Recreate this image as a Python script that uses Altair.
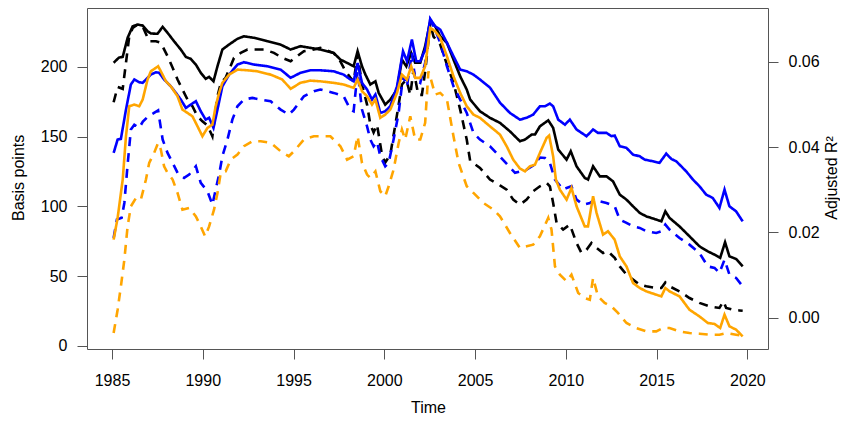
import altair as alt
import pandas as pd

# (year, basis points)
black_solid = [(1985.09,203),(1985.38,206.7),(1985.59,207.2),(1985.86,220.9),(1986.14,229.2),(1986.41,230.4),(1986.69,229.7),(1986.96,225.6),(1987.14,224),(1987.51,223.8),(1987.79,228.8),(1988.06,224.5),(1988.42,218.4),(1988.79,212.5),(1989.07,207.2),(1989.34,205.8),(1989.62,201.7),(1989.89,195.8),(1990.16,191.5),(1990.35,192.9),(1990.59,189.7),(1990.81,200.5),(1991.08,212.5),(1991.45,216.1),(1991.91,220.2),(1992.27,222),(1992.82,220.9),(1993.55,218.5),(1994.29,216),(1994.84,212.5),(1995.38,214.9),(1995.93,213.7),(1996.48,212.5),(1997.21,210.1),(1997.58,205.3),(1997.95,202.9),(1998.31,200.5),(1998.53,211.3),(1998.77,200.5),(1998.96,194.5),(1999.23,187.4),(1999.51,189.7),(1999.69,181.4),(2000.05,173),(2000.33,176.6),(2000.70,183.8),(2000.97,205.3),(2001.21,200.5),(2001.48,210.1),(2001.70,203),(2001.98,203),(2002.25,214.9),(2002.53,232.8),(2002.80,229.2),(2003.08,222),(2003.45,217.3),(2003.81,205.3),(2004.18,193.3),(2004.54,183.8),(2004.73,176.6),(2005.27,168.2),(2005.82,163.5),(2006.37,159.9),(2006.92,153.8),(2007.47,146.7),(2007.75,147.9),(2008.12,151.5),(2008.30,151.5),(2008.57,157.4),(2009.03,161.7),(2009.30,156.3),(2009.58,140.7),(2010.04,133.5),(2010.27,139.5),(2010.59,128.7),(2011.04,120.4),(2011.22,119.2),(2011.50,128.7),(2011.87,121.5),(2012.24,121.5),(2012.60,117.9),(2012.97,108.4),(2013.34,104.8),(2013.70,100),(2014.07,95.3),(2014.43,92.8),(2014.98,90.5),(2015.26,89.2),(2015.48,96.4),(2015.71,91.7),(2016.26,85.6),(2016.81,78.5),(2017.36,71.3),(2017.82,67.7),(2018.19,65.3),(2018.50,63),(2018.77,74.2),(2019.01,64.1),(2019.38,62.2),(2019.74,56.9)]

black_dashed = [(1985.09,174.7),(1985.31,185.7),(1985.59,184.3),(1985.77,203),(1985.95,222),(1986.14,228),(1986.41,230.4),(1986.69,229),(1987.05,218.4),(1987.42,218.4),(1987.69,217.3),(1988.06,207.7),(1988.34,199.4),(1988.61,191),(1988.88,183.8),(1989.16,176.6),(1989.43,171.8),(1989.71,164.6),(1989.98,161),(1990.26,158),(1990.53,150.3),(1990.81,179),(1991.0,188.6),(1991.26,192.2),(1991.45,198.1),(1991.72,206.5),(1992.09,210.1),(1992.46,212.5),(1992.82,212.5),(1993.37,212.5),(1993.92,210.1),(1994.38,206.5),(1994.84,204.1),(1995.20,207.7),(1995.57,211.3),(1996.12,212.5),(1996.48,213.7),(1997.21,210),(1997.58,204),(1997.86,197),(1998.13,192.4),(1998.31,189.5),(1998.53,209),(1998.77,187.4),(1999.05,173),(1999.23,158.6),(1999.41,153),(1999.60,158.6),(1999.87,137),(2000.05,131.4),(2000.33,137),(2000.70,165.8),(2000.97,187.4),(2001.21,191),(2001.43,180),(2001.61,198),(2001.87,180),(2002.07,180),(2002.25,196.7),(2002.53,231),(2002.71,221.8),(2003.08,216),(2003.45,201.7),(2003.81,188.8),(2004.18,169.4),(2004.54,147.9),(2004.73,132.5),(2005.27,127.6),(2005.82,119.2),(2006.37,115),(2006.74,112),(2007.10,104.8),(2007.47,101.2),(2007.84,104.8),(2008.20,110.8),(2008.57,114.4),(2008.94,116.8),(2009.12,114.4),(2009.30,102.4),(2009.49,88.1),(2009.85,83.3),(2010.22,86.9),(2010.59,73.7),(2010.86,66.5),(2011.14,68.9),(2011.41,73.7),(2011.69,70.1),(2012.05,66.5),(2012.32,67.7),(2012.69,63),(2012.97,56.9),(2013.34,51),(2013.70,47.4),(2014.07,43.8),(2014.43,42.6),(2014.98,41.4),(2015.26,41.4),(2015.48,45.4),(2015.71,42.6),(2016.26,39),(2016.81,34.2),(2017.36,30.7),(2017.91,28.2),(2018.46,27.1),(2018.68,31.8),(2018.83,27.1),(2019.19,25.8),(2019.56,25.3),(2019.74,25.1)]

blue_solid = [(1985.09,138.3),(1985.31,147.9),(1985.49,148.4),(1985.77,169.4),(1986.04,187.4),(1986.23,191),(1986.50,189),(1986.69,188.6),(1986.96,192.2),(1987.14,194.5),(1987.42,196.2),(1987.60,195.8),(1987.87,191),(1988.24,186.1),(1988.52,181.4),(1988.79,176.6),(1989.07,170.6),(1989.34,173),(1989.62,175.4),(1989.89,168.2),(1990.16,162.2),(1990.35,163.5),(1990.59,156.3),(1990.81,169.4),(1991.08,186.1),(1991.45,194.5),(1991.91,201.7),(1992.27,203.4),(1992.82,201.7),(1993.55,200.5),(1994.29,198.1),(1994.84,192.2),(1995.38,195.8),(1995.93,197.6),(1996.48,197.6),(1997.21,196.9),(1997.76,194.5),(1998.13,191),(1998.31,189.7),(1998.53,202.9),(1998.77,188.6),(1999.05,183.8),(1999.32,176.6),(1999.51,180.2),(1999.78,167),(2000.05,168.2),(2000.33,171.8),(2000.70,186.1),(2001.03,211.3),(2001.25,204.1),(2001.52,219.7),(2001.76,204.1),(2001.98,204.1),(2002.25,212.5),(2002.53,234.5),(2002.80,229.2),(2003.08,226.8),(2003.45,217.3),(2003.81,207.7),(2004.18,198.1),(2004.54,196.9),(2004.91,194.5),(2005.27,191),(2005.82,185.2),(2006.37,174.4),(2006.92,167),(2007.47,162.2),(2007.84,163.5),(2008.20,165.8),(2008.57,171.8),(2008.85,171.8),(2009.12,173.7),(2009.30,171.8),(2009.58,162.2),(2009.95,158.6),(2010.22,162.2),(2010.59,155.1),(2011.14,150.3),(2011.50,155.1),(2011.77,152.7),(2012.24,152.7),(2012.51,150.3),(2012.69,150.8),(2012.97,143.1),(2013.34,141.9),(2013.70,137.1),(2014.07,135.9),(2014.34,133.5),(2014.80,132.3),(2015.16,131.2),(2015.53,137.8),(2015.81,134),(2016.08,132.3),(2016.63,125.1),(2017.0,119.2),(2017.36,114.4),(2017.73,108.4),(2018.09,106),(2018.46,98.9),(2018.74,112),(2019.01,100),(2019.38,96.4),(2019.74,89.2)]

blue_dashed = [(1985.09,77.3),(1985.27,90.5),(1985.53,91.7),(1985.68,102.4),(1985.86,129.9),(1986.04,155.1),(1986.23,158.6),(1986.50,156.3),(1986.70,160.8),(1986.98,164.4),(1987.25,166.5),(1987.54,168.9),(1987.79,147.9),(1988.06,138.3),(1988.34,131.2),(1988.63,123.5),(1988.97,120.4),(1989.25,122.8),(1989.62,128.7),(1989.89,116.8),(1990.26,110.8),(1990.53,101.2),(1990.71,112),(1990.90,122.8),(1991.08,135.9),(1991.36,147.9),(1991.63,162.2),(1991.91,171.8),(1992.27,176.6),(1992.73,177.8),(1993.19,176.6),(1993.74,175.4),(1994.29,169.4),(1994.74,165.8),(1995.02,169.4),(1995.57,179),(1996.12,182.6),(1996.48,183.8),(1997.21,181.4),(1997.76,179),(1998.13,169.4),(1998.31,168.2),(1998.53,196.9),(1998.77,169.4),(1999.05,157.4),(1999.23,147.9),(1999.41,143.1),(1999.60,146.4),(1999.78,135.9),(2000.05,128.7),(2000.24,131.2),(2000.51,147.9),(2000.79,167),(2001.03,193.3),(2001.25,186.1),(2001.52,210.1),(2001.70,191),(2001.98,188.6),(2002.25,203),(2002.53,234),(2002.80,226.8),(2003.08,217.3),(2003.45,200.5),(2003.81,186.1),(2004.18,176.6),(2004.54,167),(2004.91,152.7),(2005.27,147.9),(2005.82,143.1),(2006.37,135.7),(2007.20,124),(2007.84,126.3),(2008.20,129.2),(2008.57,135),(2008.85,134.7),(2009.12,131.2),(2009.40,119.2),(2009.85,112),(2010.04,113.2),(2010.31,114.4),(2010.59,104.8),(2010.96,101.2),(2011.32,102.4),(2011.59,104.8),(2011.87,103.6),(2012.24,102.4),(2012.69,100),(2012.97,90.5),(2013.34,88.1),(2013.70,85.6),(2014.07,84.5),(2014.43,82.1),(2014.98,80.9),(2015.26,82.1),(2015.48,86.9),(2015.71,83.3),(2016.26,77.3),(2016.81,72.5),(2017.36,66.5),(2017.82,56.9),(2018.19,55.8),(2018.46,52.2),(2018.74,61.7),(2019.01,51),(2019.38,48.6),(2019.74,42.6)]

orange_solid = [(1985.09,76.1),(1985.31,91.7),(1985.59,119.2),(1985.77,150.3),(1985.95,171.8),(1986.23,173),(1986.50,171.8),(1986.69,176.6),(1986.96,191),(1987.14,196.9),(1987.42,199.4),(1987.54,200.5),(1987.69,196.9),(1987.97,189.7),(1988.24,186.1),(1988.61,179),(1988.88,169.4),(1989.16,167),(1989.43,164.6),(1989.71,157.4),(1989.98,150.3),(1990.26,156.3),(1990.53,158.6),(1990.71,171.8),(1990.90,181.4),(1991.08,188.6),(1991.45,194.5),(1991.91,198.1),(1992.46,197.6),(1993.0,196.9),(1993.74,194.5),(1994.38,191),(1994.84,184.3),(1995.38,188.6),(1995.93,190.2),(1996.48,189.7),(1997.21,188.6),(1997.76,187.4),(1998.31,185),(1998.53,191),(1998.77,182.6),(1999.05,179),(1999.32,173),(1999.51,176.6),(1999.78,163.5),(2000.05,165.8),(2000.33,169.4),(2000.70,181.4),(2000.97,194.5),(2001.25,191),(2001.48,200.5),(2001.70,192.2),(2001.98,192.2),(2002.25,200.5),(2002.53,228),(2002.80,225.6),(2003.08,220.9),(2003.45,207.7),(2003.81,193.3),(2004.18,181.4),(2004.54,171.8),(2004.91,165.8),(2005.27,163.5),(2005.82,157.4),(2006.37,151.5),(2006.74,143.1),(2007.10,133.5),(2007.47,127.1),(2007.75,125.1),(2008.02,128.7),(2008.30,129.9),(2008.57,138.3),(2008.94,149.1),(2009.08,150.8),(2009.30,135.9),(2009.45,119.2),(2009.67,112),(2010.04,104.8),(2010.31,113.2),(2010.59,100),(2011.04,85.6),(2011.22,85.6),(2011.50,107.2),(2011.69,95.3),(2012.05,79.7),(2012.32,82.1),(2012.69,76.1),(2012.97,64.1),(2013.34,56.9),(2013.70,45),(2014.07,41.4),(2014.43,39),(2014.98,36.6),(2015.26,35.4),(2015.48,41.4),(2015.71,39),(2016.26,35.4),(2016.81,25.8),(2017.36,21),(2017.82,16.3),(2018.19,15.6),(2018.50,12.7),(2018.74,22.3),(2019.01,13.9),(2019.38,11.5),(2019.74,6.7)]

orange_dashed = [(1985.09,9.1),(1985.31,25.8),(1985.49,42.6),(1985.68,61.7),(1985.86,85.6),(1986.04,100),(1986.32,106),(1986.59,104.8),(1986.87,119.2),(1987.05,131.2),(1987.32,138.3),(1987.54,145.5),(1987.69,140.7),(1987.87,128.7),(1988.06,124),(1988.34,119.2),(1988.61,109.6),(1988.88,97.6),(1989.25,98.9),(1989.62,92.8),(1989.89,85.6),(1990.13,78.5),(1990.35,85.6),(1990.62,97.6),(1990.81,109.6),(1990.99,124),(1991.26,125.1),(1991.54,133.5),(1991.91,137.1),(1992.27,143.1),(1992.73,146.7),(1993.19,146.7),(1993.74,145.5),(1994.29,139.5),(1994.74,135.9),(1995.02,139.5),(1995.57,147.9),(1996.12,150.3),(1996.48,150.3),(1997.03,150.3),(1997.58,143.1),(1997.95,133.5),(1998.31,135.9),(1998.53,150.3),(1998.77,131.2),(1999.05,122.8),(1999.23,120.4),(1999.51,125.1),(1999.78,110.8),(2000.05,107.2),(2000.24,114.4),(2000.51,126.3),(2000.79,145.5),(2000.97,155.1),(2001.15,147.9),(2001.43,164.6),(2001.70,147.9),(2001.98,147.9),(2002.25,159.9),(2002.43,196.9),(2002.57,191),(2002.80,180.2),(2003.08,181.4),(2003.45,176.6),(2003.81,150.3),(2004.09,131.2),(2004.54,114.4),(2004.91,109.6),(2005.46,102.4),(2006.01,97.6),(2006.37,92.8),(2006.92,80.9),(2007.47,70.1),(2007.84,71.3),(2008.20,72.5),(2008.57,78.5),(2009.03,91.7),(2009.21,83.3),(2009.40,56.9),(2009.67,51),(2010.04,46.2),(2010.31,51),(2010.68,37.8),(2011.04,34.2),(2011.32,33),(2011.50,48.6),(2011.77,35.4),(2012.14,30.7),(2012.51,28.2),(2012.87,23.5),(2013.34,16.3),(2013.88,12.7),(2014.43,10.3),(2014.98,10.3),(2015.35,12.7),(2015.71,12.7),(2016.26,10.3),(2016.81,9.1),(2017.36,8.6),(2017.91,7.9),(2018.46,7.9),(2018.83,9.1),(2019.38,7.9),(2019.74,7.2)]

series_names = ["black_solid", "black_dashed", "blue_solid", "blue_dashed", "orange_solid", "orange_dashed"]
series_data = [black_solid, black_dashed, blue_solid, blue_dashed, orange_solid, orange_dashed]
series_colors = ["#000000", "#000000", "#0000FF", "#0000FF", "#FFA500", "#FFA500"]
series_dash = [[1, 0], [9, 7], [1, 0], [9, 7], [1, 0], [9, 7]]

x_ticks = [1985, 1990, 1995, 2000, 2005, 2010, 2015, 2020]
bp_ticks = [0, 50, 100, 150, 200]
r2_ticks = [0.0, 0.02, 0.04, 0.06]

rows = []
for i, (name, pts) in enumerate(zip(series_names, series_data)):
    for yr, v in pts:
        rows.append({"series": name, "order": i, "year": yr, "bp": v})
df = pd.DataFrame(rows)

r2_df = pd.DataFrame({"year": [1985.0] * len(r2_ticks), "r2": r2_ticks})

FONT = "Liberation Sans"
AXC = "#555555"
XDOM = [1983.623, 2021.135]

x_enc = alt.X(
    "year:Q",
    scale=alt.Scale(domain=XDOM, nice=False, zero=False),
    axis=alt.Axis(
        values=x_ticks, format="d", title="Time", grid=False, domain=False,
        tickSize=10, tickColor=AXC, labelFont=FONT, labelFontSize=16,
        labelColor="#000000", labelPadding=13, titleFont=FONT, titleFontSize=16,
        titleFontWeight="normal", titleColor="#000000",
        titleX=341, titleY=63, titleBaseline="alphabetic", titleAlign="center",
    ),
)

lines = alt.Chart(df).mark_line(strokeWidth=2.6, strokeCap="butt").encode(
    x=x_enc,
    y=alt.Y(
        "bp:Q",
        scale=alt.Scale(domain=[-2.37, 242.3], nice=False, zero=False),
        axis=alt.Axis(
            values=bp_ticks, orient="left", title="Basis points", grid=False,
            domain=False, tickSize=10, tickColor=AXC, labelFont=FONT,
            labelFontSize=16, labelColor="#000000", labelPadding=10,
            titleFont=FONT, titleFontSize=16, titleFontWeight="normal",
            titleColor="#000000", titleAngle=270, titleX=-69, titleY=169.4,
            titleAlign="center", titleBaseline="middle",
        ),
    ),
    color=alt.Color("series:N", scale=alt.Scale(domain=series_names, range=series_colors), legend=None),
    strokeDash=alt.StrokeDash("series:N", scale=alt.Scale(domain=series_names, range=series_dash), legend=None),
    order=alt.Order("order:Q"),
)

right = alt.Chart(r2_df).mark_line(opacity=0).encode(
    x=alt.X("year:Q", scale=alt.Scale(domain=XDOM, nice=False, zero=False)),
    y=alt.Y(
        "r2:Q",
        scale=alt.Scale(domain=[-0.00734, 0.07259], nice=False, zero=False),
        axis=alt.Axis(
            values=r2_ticks, format=".2f", orient="right", title="Adjusted R²",
            grid=False, domain=False, tickSize=10, tickColor=AXC,
            labelFont=FONT, labelFontSize=16, labelColor="#000000",
            labelPadding=10, titleFont=FONT, titleFontSize=16,
            titleFontWeight="normal", titleColor="#000000", titleAngle=270,
            titleX=63, titleY=169.4, titleAlign="center", titleBaseline="middle",
        ),
    ),
)

chart = alt.layer(lines, right).resolve_scale(y="independent").properties(
    width=681,
    height=341,
    autosize=alt.AutoSizeParams(type="none"),
    padding={"left": 79, "top": 0, "right": 72, "bottom": 68},
).configure_view(stroke=AXC, strokeWidth=1)

chart.save("out.html", embed_options={"renderer": "svg", "actions": False})
